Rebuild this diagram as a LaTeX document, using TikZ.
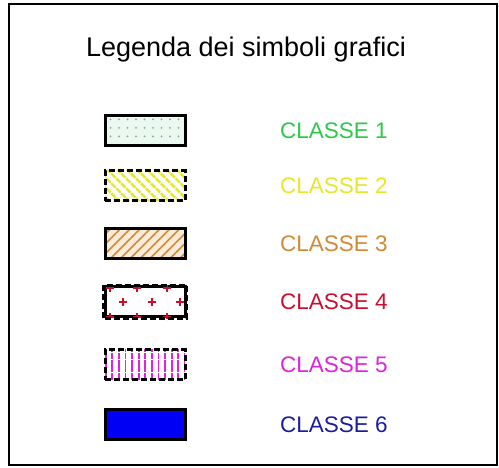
\documentclass[tikz,border=0pt]{standalone}
\usepackage{fontspec}
\setmainfont{Liberation Sans}
\usetikzlibrary{patterns.meta}
\definecolor{clsone}{HTML}{2DC84A}
\definecolor{clstwo}{HTML}{E6E62A}
\definecolor{clsthree}{HTML}{CF8A35}
\definecolor{clsfour}{HTML}{C8102E}
\definecolor{clsfive}{HTML}{DE22DE}
\definecolor{clssix}{HTML}{1C1C9C}
\definecolor{mintfill}{HTML}{EAF8F0}
\definecolor{dotc}{HTML}{7FA89A}
\definecolor{peachfill}{HTML}{FCEBD8}
\definecolor{bluefill}{HTML}{0000F5}

\tikzset{
  swatch/.style={draw=black, line width=3pt, minimum width=80pt, minimum height=30pt, inner sep=0pt},
  dashedge/.style={dash pattern=on 6pt off 3pt},
  classlabel/.style={anchor=west, inner sep=0pt, font=\fontsize{22.5}{26}\selectfont}
}

\begin{document}
\begin{tikzpicture}[x=1pt, y=-1pt]
    \useasboundingbox (0,0) rectangle (499,468);
    \draw[line width=2.2pt] (9,4) rectangle (497,465);
    \node[font=\fontsize{27}{32}\selectfont] (title) at (246,50) {Legenda dei simboli grafici};
    % swatches
    \node[swatch, preaction={fill=mintfill}, pattern={Dots[radius=1pt, distance=8.5pt]}, pattern color=dotc] (swi) at (145,131) {};
    \node[swatch, dashedge, preaction={fill=white}, pattern={Lines[angle=-45, distance=7pt, line width=2.4pt]}, pattern color=clstwo] (swii) at (145,186) {};
    \node[swatch, preaction={fill=peachfill}, pattern={Lines[angle=45, distance=7pt, line width=1.6pt]}, pattern color=clsthree] (swiii) at (145,244) {};
    \node[swatch, fill=white] (swiv) at (145,302) {};
    \node[swatch, dashedge, preaction={fill=white}, pattern={Lines[angle=90, distance=6.6pt, line width=1.8pt]}, pattern color=clsfive] (swv) at (145,365) {};
    \node[swatch, fill=bluefill] (swvi) at (145,425) {};
    \begin{scope}
      \clip (swiv.south west) rectangle (swiv.north east);
      \foreach \dx/\dy in {-35/-14, -8/-14, 22/-14, -22/0, 7/0, 35/0, -35/15, -8/15, 22/15}
        \draw[clsfour, line width=1.5pt] ([shift={(\dx,\dy)}]swiv.center) ++(-4,0) -- ++(8,0) ++(-4,-4) -- ++(0,8);
    \end{scope}
    \draw[line width=3pt, dashedge] (swiv.south west) rectangle (swiv.north east);
    % labels
    \node[classlabel, text=clsone] (lbi) at (280,131) {CLASSE 1};
    \node[classlabel, text=clstwo] (lbii) at (280,186) {CLASSE 2};
    \node[classlabel, text=clsthree] (lbiii) at (280,244) {CLASSE 3};
    \node[classlabel, text=clsfour] (lbiv) at (280,302) {CLASSE 4};
    \node[classlabel, text=clsfive] (lbv) at (280,365) {CLASSE 5};
    \node[classlabel, text=clssix] (lbvi) at (280,425) {CLASSE 6};
\end{tikzpicture}
\end{document}
